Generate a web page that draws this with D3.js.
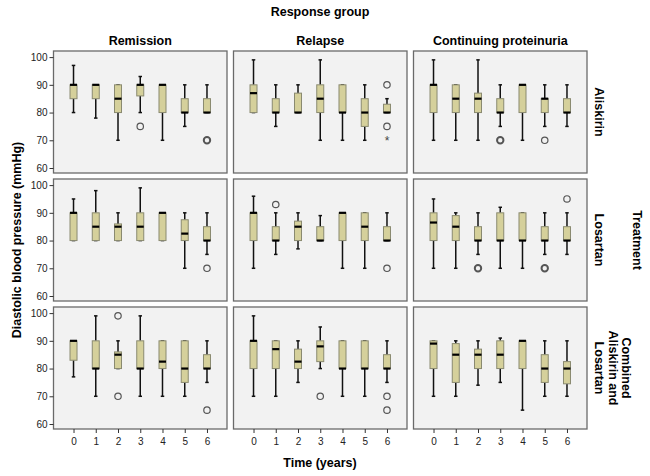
<!DOCTYPE html>
<html>
<head>
<meta charset="utf-8">
<script src="https://cdn.jsdelivr.net/npm/d3@7/dist/d3.min.js"></script>
<style>
  html, body { margin: 0; padding: 0; background: #ffffff; }
  svg { display: block; }
  text { font-family: "Liberation Sans", Arial, sans-serif; }
</style>
</head>
<body>
<svg id="chart" width="650" height="476"></svg>
<script>
// ---- data ----
const timeLabels = ["0", "1", "2", "3", "4", "5", "6"];
const responseGroups = ["Remission", "Relapse", "Continuing proteinuria"];
const treatments = [["Aliskirin"], ["Losartan"], ["Combined", "Aliskirin and", "Losartan"]];
const yTicks = [60, 70, 80, 90, 100];

// each row: [lower whisker, Q1, median, Q3, upper whisker] for time 0..6
const remissionAliskirin = [[80,85,90,90,97],[78,85,90,90,90],[70,80,85,90,90],[80,86,90,90,93],[70,80,90,90,90],[75,80,80,85,90],[80,80,80,85,90]];
const relapseAliskirin   = [[80,80,87,90,99],[75,80,80,85,90],[80,80,80,87,90],[70,80,85,90,99],[70,80,80,90,90],[70,75,80,85,90],[80,80,80,83,85]];
const contAliskirin      = [[70,80,90,90,99],[70,80,85,90,90],[70,80,85,87,99],[75,80,80,85,90],[70,80,90,90,90],[75,80,85,85,90],[75,80,80,85,90]];
const remissionLosartan  = [[80,80,90,90,95],[80,80,85,90,98],[80,80,85,86,90],[80,80,85,90,99],[80,80,90,90,90],[70,80,82.5,87.5,90],[75,80,80,85,90]];
const relapseLosartan    = [[70,80,90,90,96],[75,80,80,85,90],[77,80,85,87,90],[80,80,80,85,89],[70,80,90,90,90],[70,80,85,90,90],[80,80,80,85,90]];
const contLosartan       = [[70,80,86.5,90,95],[70,80,85,89,90],[75,80,80,85,90],[70,80,80,90,92],[70,80,80,90,90],[75,80,80,85,90],[75,80,80,85,90]];
const remissionCombined  = [[77,83,90,90,90],[70,80,80,90,99],[80,80,85,86,90],[70,80,80,90,99],[70,80,82.5,90,90],[70,75,80,90,90],[75,80,80,85,90]];
const relapseCombined    = [[70,80,90,90,99],[70,80,87,90,90],[75,80,82.5,87,90],[80,82.5,88,90,95],[70,80,80,90,90],[70,80,80,90,90],[75,80,80,85,90]];
const contCombined       = [[70,80,89,90,90],[70,75,85,89,90],[74,80,85,87,90],[75,80,85,90,91],[65,80,90,90,90],[70,75,80,85,90],[70,74.5,80,82.5,90]];

// outliers: [time index, value, marker ("o" circle, "*" extreme), number of cases]
const remissionAliskirinOut = [[3,75,"o",1],[6,70,"o",2]];
const relapseAliskirinOut   = [[6,90,"o",1],[6,75,"o",1],[6,70,"*",1]];
const contAliskirinOut      = [[3,70,"o",2],[5,70,"o",1]];
const remissionLosartanOut  = [[6,70,"o",1]];
const relapseLosartanOut    = [[1,93,"o",1],[6,70,"o",1]];
const contLosartanOut       = [[2,70,"o",2],[5,70,"o",2],[6,95,"o",1]];
const remissionCombinedOut  = [[2,99,"o",1],[2,70,"o",1],[6,65,"o",1]];
const relapseCombinedOut    = [[3,70,"o",1],[6,70,"o",1],[6,65,"o",1]];
const contCombinedOut       = [];

const panelStats = [
  [remissionAliskirin, relapseAliskirin, contAliskirin],
  [remissionLosartan, relapseLosartan, contLosartan],
  [remissionCombined, relapseCombined, contCombined]
];
const panelOutliers = [
  [remissionAliskirinOut, relapseAliskirinOut, contAliskirinOut],
  [remissionLosartanOut, relapseLosartanOut, contLosartanOut],
  [remissionCombinedOut, relapseCombinedOut, contCombinedOut]
];

// ---- layout ----
const svg = d3.select("#chart");
const colX = [53.5, 233.5, 413.5];
const panelW = 173.5;
const rowY = [51, 179, 307];
const panelH = 122;
const boxW = 7;
const capW = 3.5;
const boxFill = "#d5d09b";

const title = "bold 12.5px";

svg.append("text").attr("x", 320).attr("y", 16).attr("text-anchor", "middle")
  .attr("font-weight", "bold").attr("font-size", 12.5).text("Response group");

responseGroups.forEach((g, c) => {
  svg.append("text").attr("x", colX[c] + panelW / 2).attr("y", 44.5).attr("text-anchor", "middle")
    .attr("font-weight", "bold").attr("font-size", 12.5).text(g);
});

svg.append("text").attr("x", 320).attr("y", 467).attr("text-anchor", "middle")
  .attr("font-weight", "bold").attr("font-size", 12.5).text("Time (years)");

svg.append("text").attr("transform", "translate(21,240) rotate(-90)").attr("text-anchor", "middle")
  .attr("font-weight", "bold").attr("font-size", 12.5).text("Diastolic blood pressure (mmHg)");

svg.append("text").attr("transform", "translate(633,240) rotate(90)").attr("text-anchor", "middle")
  .attr("font-weight", "bold").attr("font-size", 12.5).text("Treatment");

treatments.forEach((lines, r) => {
  const cy = rowY[r] + panelH / 2;
  const n = lines.length;
  lines.forEach((ln, i) => {
    const x = 595 + (n - 1 - i) * 13.5;
    svg.append("text").attr("transform", `translate(${x},${cy}) rotate(90)`).attr("text-anchor", "middle")
      .attr("font-weight", "bold").attr("font-size", 12.5).text(ln);
  });
});

for (let r = 0; r < 3; r++) {
  const y = d3.scaleLinear().domain([58.2, 102.2]).range([rowY[r] + panelH, rowY[r]]);
  for (let c = 0; c < 3; c++) {
    const x = d3.scalePoint().domain(timeLabels).range([colX[c], colX[c] + panelW]).padding(0.9);
    const g = svg.append("g");
    g.append("rect").attr("x", colX[c]).attr("y", rowY[r]).attr("width", panelW).attr("height", panelH)
      .attr("fill", "#f2f2f2").attr("stroke", "#6a6a6a").attr("stroke-width", 1.3);

    if (c === 0) {
      const ax = d3.axisLeft(y).tickValues(yTicks).tickSize(4).tickPadding(2);
      const ag = g.append("g").attr("transform", `translate(${colX[c]},0)`).call(ax);
      ag.select(".domain").remove();
      ag.selectAll("line").attr("stroke", "#333");
      ag.selectAll("text").attr("font-size", 10).attr("fill", "#222")
        .style("font-family", '"Liberation Sans", Arial, sans-serif');
    }
    if (r === 2) {
      const ax = d3.axisBottom(x).tickSize(4).tickPadding(5);
      const ag = g.append("g").attr("transform", `translate(0,${rowY[r] + panelH})`).call(ax);
      ag.select(".domain").remove();
      ag.selectAll("line").attr("stroke", "#333");
      ag.selectAll("text").attr("font-size", 10).attr("fill", "#222")
        .style("font-family", '"Liberation Sans", Arial, sans-serif');
    }

    const stats = panelStats[r][c];
    stats.forEach((s, t) => {
      const cx = x(timeLabels[t]);
      const [lo, q1, md, q3, hi] = s;
      // whiskers
      g.append("line").attr("x1", cx).attr("x2", cx).attr("y1", y(hi)).attr("y2", y(q3))
        .attr("stroke", "#111").attr("stroke-width", 1.5);
      g.append("line").attr("x1", cx).attr("x2", cx).attr("y1", y(q1)).attr("y2", y(lo))
        .attr("stroke", "#111").attr("stroke-width", 1.5);
      g.append("line").attr("x1", cx - capW / 2).attr("x2", cx + capW / 2).attr("y1", y(hi)).attr("y2", y(hi))
        .attr("stroke", "#111").attr("stroke-width", 1.5);
      g.append("line").attr("x1", cx - capW / 2).attr("x2", cx + capW / 2).attr("y1", y(lo)).attr("y2", y(lo))
        .attr("stroke", "#111").attr("stroke-width", 1.5);
      // box
      g.append("rect").attr("x", cx - boxW / 2).attr("y", y(q3)).attr("width", boxW)
        .attr("height", Math.max(0, y(q1) - y(q3)))
        .attr("fill", boxFill).attr("stroke", "#8a8a70").attr("stroke-width", 1);
      // median
      g.append("line").attr("x1", cx - boxW / 2).attr("x2", cx + boxW / 2).attr("y1", y(md)).attr("y2", y(md))
        .attr("stroke", "#000").attr("stroke-width", 2.2);
    });

    panelOutliers[r][c].forEach(o => {
      const [t, v, m, n] = o;
      const cx = x(timeLabels[t]);
      if (m === "*") {
        g.append("text").attr("x", cx).attr("y", y(v) + 5).attr("text-anchor", "middle")
          .attr("font-size", 12).attr("fill", "#444").text("*");
      } else {
        g.append("circle").attr("cx", cx).attr("cy", y(v)).attr("r", 3.2)
          .attr("fill", "none").attr("stroke", "#555").attr("stroke-width", n > 1 ? 2 : 1.2);
      }
    });
  }
}
</script>
</body>
</html>
